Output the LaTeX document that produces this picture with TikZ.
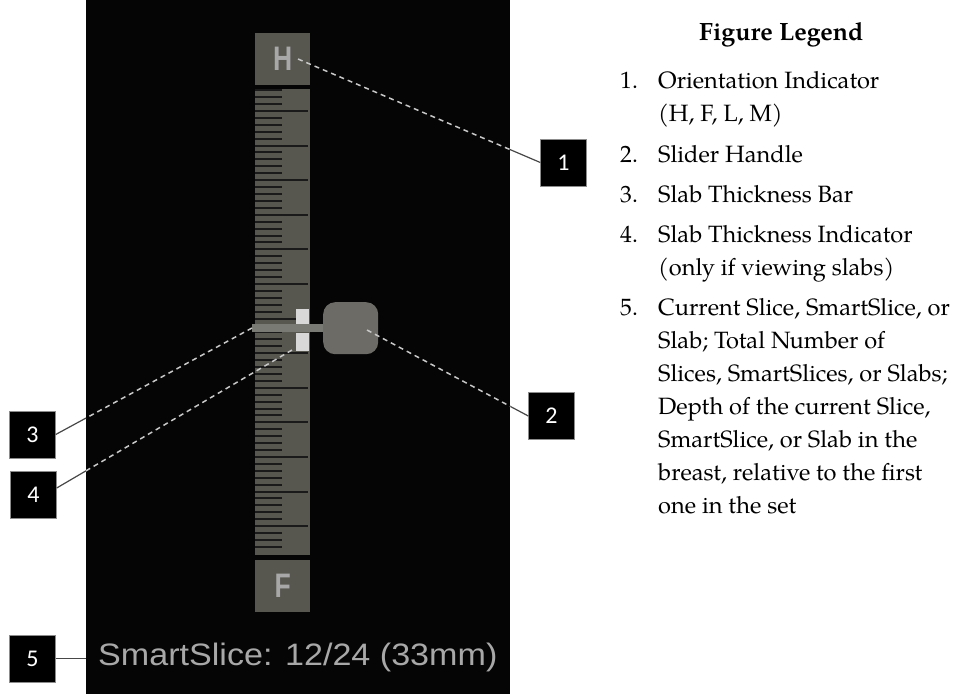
\documentclass[tikz,border=0pt]{standalone}
\usepackage{fontspec}
\setmainfont{TeX Gyre Pagella}
\newfontfamily\uifont{Liberation Sans}
\newfontfamily\tagfont{Carlito}
\usetikzlibrary{calc}
\definecolor{panelbg}{HTML}{050505}
\definecolor{rulergray}{HTML}{57564F}
\definecolor{tickdark}{HTML}{1A1A1A}
\definecolor{knobgray}{HTML}{6C6B66}
\definecolor{barlight}{HTML}{7A7A74}
\definecolor{slablight}{HTML}{D8D8D8}
\definecolor{leadlight}{HTML}{C8C8C8}
\definecolor{leaddark}{HTML}{474747}
\definecolor{uitext}{HTML}{A8A8A8}

\begin{document}
\begin{tikzpicture}[x=1pt, y=-1pt,
  tag/.style   ={draw=black!45, fill=black, minimum width=46pt, minimum height=47pt,
                 inner sep=0pt, text=white, font=\tagfont\fontsize{24}{24}\selectfont},
  endbox/.style={fill=rulergray, minimum width=55pt, minimum height=52pt, inner sep=0pt,
                 anchor=north west, text=uitext,
                 font=\uifont\bfseries\fontsize{34}{34}\selectfont},
  tick/.style  ={draw=tickdark, line width=2pt},
  lead/.style  ={draw=leaddark, line width=1.2pt},
  leadin/.style={draw=leadlight, line width=1.5pt, dash pattern=on 5pt off 4pt},
  leg/.style   ={anchor=base west, inner sep=0pt, font=\fontsize{23.6}{33}\selectfont}]
\useasboundingbox (0,0) rectangle (956,694);

% callout tags
\node[tag] (n1) at (563.5,162.5) {1};
\node[tag] (n2) at (551.5,416) {2};
\node[tag] (n3) at (32.5,434.5) {3};
\node[tag] (n4) at (33.5,495) {4};
\node[tag] (n5) at (32.5,658.5) {5};

\coordinate (hpt)  at (298,59);
\coordinate (kpt)  at (367,330);
\coordinate (bpt)  at (252,328);
\coordinate (ipt)  at (292,350);

% solid part of the leaders, the panel covers the rest
\draw[lead] (hpt) -- (n1.west);
\draw[lead] (kpt) -- (n2.west);
\draw[lead] (bpt) -- (n3.east);
\draw[lead] (ipt) -- ([yshift=7pt]n4.east);

\node[fill=panelbg, minimum width=424pt, minimum height=694pt, inner sep=0pt,
  anchor=north west] (panel) at (86,0) {};
\draw[lead] (n5.east) -- (n5.east -| panel.west);

% slider
\node[endbox] (htop) at (255,33) {\scalebox{0.78}[1]{H}};
\node[endbox] (fbot) at (255,560) {\scalebox{0.78}[1]{F}};
\node[fill=rulergray, minimum width=55pt, minimum height=466pt, inner sep=0pt,
  anchor=north west] (ruler) at (255,89) {};
\foreach \k in {0,...,66}{
  \pgfmathsetmacro\tlen{mod(\k,5)==3 ? 53 : 27}
  \draw[tick] ($(ruler.north west)+(0,1.2+6.92*\k)$) -- ++(\tlen,0);
}
\node[fill=slablight, minimum width=13pt, minimum height=16pt, inner sep=0pt,
  anchor=north west] (slabA) at (296,309) {};
\node[fill=slablight, minimum width=13pt, minimum height=18pt, inner sep=0pt,
  anchor=north west] (slabB) at (296,333) {};
\node[fill=barlight, minimum width=72pt, minimum height=8pt, inner sep=0pt,
  anchor=north west] (bar) at (252,324) {};
\node[fill=knobgray, rounded corners=12pt, minimum width=55pt, minimum height=52pt,
  inner sep=0pt, anchor=north west] (knob) at (323,302) {};

\node[anchor=base west, inner sep=0pt, text=uitext,
  font=\uifont\fontsize{31}{31}\selectfont] (count) at (98,665)
  {\scalebox{1.1}[1]{SmartSlice: 12/24 (33mm)}};

% dashed part of the leaders, inside the panel
\begin{scope}
  \clip (panel.north west) rectangle (panel.south east);
  \draw[leadin] (hpt) -- (n1.west);
  \draw[leadin] (kpt) -- (n2.west);
  \draw[leadin] (bpt) -- (n3.east);
  \draw[leadin] (ipt) -- ([yshift=7pt]n4.east);
\end{scope}

% legend
\node[leg, font=\bfseries\fontsize{25}{25}\selectfont] (title) at (699,40) {Figure Legend};
\foreach \y/\num in {88/1, 162/2, 202/3, 242/4, 315/5}
  \node[leg] (num\num) at (620,\y) {\num.};
\foreach \y/\txt in {88/{Orientation Indicator}, 121/{(H, F, L, M)},
    162/{Slider Handle}, 202/{Slab Thickness Bar}, 242/{Slab Thickness Indicator},
    275/{(only if viewing slabs)}, 315/{Current Slice, SmartSlice, or},
    348/{Slab; Total Number of}, 381/{Slices, SmartSlices, or Slabs;},
    414/{Depth of the current Slice,}, 447/{SmartSlice, or Slab in the},
    480/{breast, relative to the first}, 513/{one in the set}}
  \node[leg] at (658,\y) {\txt};
\end{tikzpicture}
\end{document}
